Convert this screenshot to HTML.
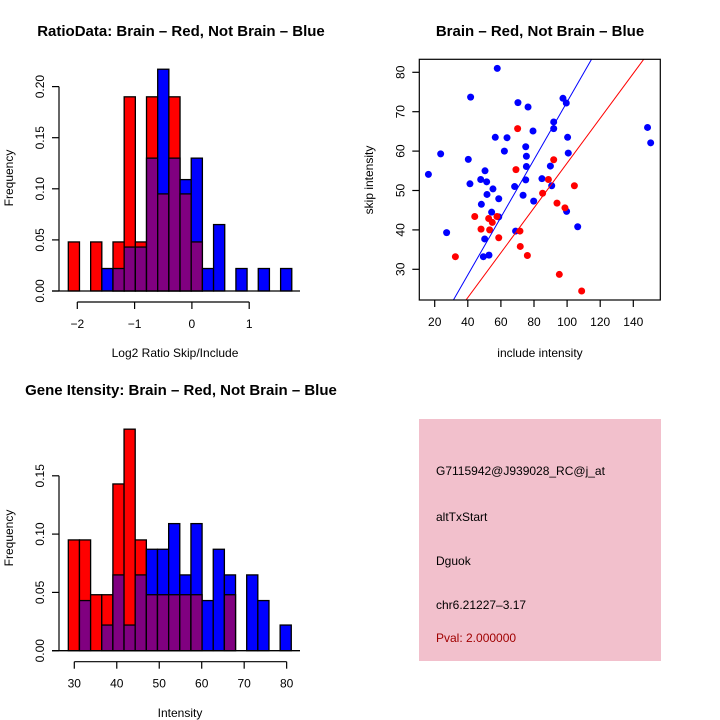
<!DOCTYPE html>
<html><head><meta charset="utf-8"><style>
html,body{margin:0;padding:0;background:#fff;}
svg{display:block;font-family:"Liberation Sans",sans-serif;}
</style></head><body>
<svg id="s" width="720" height="720" viewBox="0 0 720 720" xmlns="http://www.w3.org/2000/svg">
<rect width="720" height="720" fill="#fff"/>
<text x="181" y="36" text-anchor="middle" font-size="15" font-weight="bold">RatioData: Brain – Red, Not Brain – Blue</text>
<text x="540" y="36" text-anchor="middle" font-size="15" font-weight="bold">Brain – Red, Not Brain – Blue</text>
<text x="181" y="395" text-anchor="middle" font-size="15" font-weight="bold">Gene Itensity: Brain – Red, Not Brain – Blue</text>
<text x="175" y="357" text-anchor="middle" font-size="12">Log2 Ratio Skip/Include</text>
<text transform="translate(13,178) rotate(-90)" text-anchor="middle" font-size="12">Frequency</text>
<text x="540" y="357" text-anchor="middle" font-size="12">include intensity</text>
<text transform="translate(373,180) rotate(-90)" text-anchor="middle" font-size="12">skip intensity</text>
<text x="180" y="717" text-anchor="middle" font-size="12">Intensity</text>
<text transform="translate(13,538) rotate(-90)" text-anchor="middle" font-size="12">Frequency</text>
<g>
<rect x="419" y="419" width="242" height="242" fill="#f2c0cc"/>
<text x="436" y="475" font-size="12">G7115942@J939028_RC@j_at</text>
<text x="436" y="521" font-size="12">altTxStart</text>
<text x="436" y="565" font-size="12">Dguok</text>
<text x="436" y="609" font-size="12">chr6.21227–3.17</text>
<text x="436" y="642" font-size="12" fill="#a00000">Pval: 2.000000</text>
</g>
</svg>
<script>
// Ratio histogram data
const ratioBinStart = -2.157;
const ratioBinWidth = 0.195;
const ratioRed = [0.048,0,0.048,0,0.048,0.19,0.048,0.19,0.095,0.19,0.095,0.048,0,0,0,0,0,0,0,0];
const ratioBlue = [0,0,0,0.022,0.022,0.043,0.043,0.13,0.217,0.13,0.109,0.13,0.022,0.065,0,0.022,0,0.022,0,0.022];
const ratioXTicks = [-2,-1,0,1];
const ratioYTicks = [0,0.05,0.10,0.15,0.20];
const ratioYLabels = ["0.00","0.05","0.10","0.15","0.20"];
// Intensity histogram data
const intBinStart = 28.59;
const intBinWidth = 2.625;
const intRed = [0.095,0.095,0.048,0.048,0.143,0.19,0.095,0.048,0.048,0.048,0.048,0.048,0,0,0.048,0,0,0,0,0];
const intBlue = [0,0.043,0,0.022,0.065,0.022,0.065,0.087,0.087,0.109,0.065,0.109,0.043,0.087,0.065,0,0.065,0.043,0,0.022];
const intXTicks = [30,40,50,60,70,80];
const intYTicks = [0,0.05,0.10,0.15];
const intYLabels = ["0.00","0.05","0.10","0.15"];
// Scatter data
const blueX = [16.2,23.6,27.2,40.3,41.7,41.3,47.8,48.2,50.4,51.4,51.6,50.2,49.4,52.8,54.4,55.2,56.6,57.8,58.7,58.7,62.1,63.7,68.3,68.9,70.3,73.4,75.0,75.4,75.4,75.0,76.4,79.4,79.8,84.8,89.9,90.7,91.9,91.9,97.5,99.5,100.3,100.7,99.7,106.4,148.6,150.5];
const blueY = [54.1,59.3,39.3,57.9,73.7,51.7,52.8,46.5,55.0,52.2,49.0,37.7,33.2,33.6,44.5,50.4,63.5,81.0,47.9,43.3,60.0,63.4,51.0,39.7,72.3,48.8,61.1,58.7,56.1,52.7,71.2,65.1,47.3,53.0,56.2,51.2,67.4,65.7,73.4,72.2,63.5,59.5,44.7,40.8,66.0,62.1];
const redX = [32.5,44.2,48.0,52.6,54.8,53.2,58.7,57.6,70.1,69.1,71.5,71.7,76.0,85.2,88.7,91.9,93.9,98.7,95.3,104.4,108.8];
const redY = [33.2,43.4,40.2,42.9,41.9,40.0,38.0,43.4,65.7,55.3,39.7,35.8,33.5,49.3,52.8,57.8,46.8,45.6,28.7,51.2,24.5];
const lineSlopes = [0.732,0.569];
const lineIntercepts = [-0.71,0.06];
const lineColors = ["#0000ff","#ff0000"];
const scXTicks = [20,40,60,80,100,120,140];
const scYTicks = [30,40,50,60,70,80];

const NS="http://www.w3.org/2000/svg";
const svg=document.getElementById('s');
function mk(tag,attrs,parent){const e=document.createElementNS(NS,tag);for(const k in attrs)e.setAttribute(k,attrs[k]);(parent||svg).appendChild(e);return e;}

function hist(cfg){
  const g=mk('g',{});
  
  
  const xs=v=>cfg.x0+(v-cfg.xv0)*cfg.xk;
  const ys=v=>cfg.base-v*cfg.yk;
  for(let i=0;i<cfg.red.length;i++){
    const r=cfg.red[i],b=cfg.blue[i];
    const x1=xs(cfg.bs+i*cfg.bw),x2=xs(cfg.bs+(i+1)*cfg.bw);
    const hi=Math.max(r,b),lo=Math.min(r,b);
    if(hi>0){
      const e=mk('rect',{x:x1,y:ys(hi),width:x2-x1,height:ys(0)-ys(hi),fill:r>=b?'#ff0000':'#0000ff',stroke:'#000','stroke-width':1.3},g);
      
      
    }
    if(lo>0){
      const e=mk('rect',{x:x1,y:ys(lo),width:x2-x1,height:ys(0)-ys(lo),fill:'#800080',stroke:'#000','stroke-width':1.3},g);
      
      
    }
  }
  mk('line',{x1:52,x2:300,y1:cfg.base,y2:cfg.base,stroke:'#000','stroke-width':1.3},g);
  const ya=mk('g',{},g);
  
  
  const yt=cfg.yTicks;
  mk('line',{x1:59,x2:59,y1:ys(yt[0]),y2:ys(yt[yt.length-1]),stroke:'#000','stroke-width':1.2},ya);
  yt.forEach((v,i)=>{
    mk('line',{x1:52,x2:59,y1:ys(v),y2:ys(v),stroke:'#000','stroke-width':1.2},ya);
    const t=mk('text',{transform:`translate(44,${ys(v)}) rotate(-90)`,'text-anchor':'middle','font-size':12},ya);
    t.textContent=cfg.yLabels[i];
    
    
  });
  const xa=mk('g',{},g);
  
  
  const xt=cfg.xTicks, ay=cfg.base+11;
  mk('line',{x1:xs(xt[0]),x2:xs(xt[xt.length-1]),y1:ay,y2:ay,stroke:'#000','stroke-width':1.2},xa);
  xt.forEach(v=>{
    mk('line',{x1:xs(v),x2:xs(v),y1:ay,y2:ay+7,stroke:'#000','stroke-width':1.2},xa);
    const t=mk('text',{x:xs(v),y:ay+26,'text-anchor':'middle','font-size':12},xa);
    t.textContent=v<0?'−'+(-v):String(v);
    
    
  });
}
hist({name:'ratio-histogram',x0:77.3,xv0:-2,xk:57.3,base:291,yk:1022,bs:ratioBinStart,bw:ratioBinWidth,red:ratioRed,blue:ratioBlue,xTicks:ratioXTicks,yTicks:ratioYTicks,yLabels:ratioYLabels});
hist({name:'intensity-histogram',x0:74.3,xv0:30,xk:4.247,base:650.7,yk:1166,bs:intBinStart,bw:intBinWidth,red:intRed,blue:intBlue,xTicks:intXTicks,yTicks:intYTicks,yLabels:intYLabels});

(function(){
  const L=419.3,R=660.3,T=59.3,B=300;
  const xs=v=>434.7+(v-20)*1.655;
  const ys=v=>72.3-(v-80)*3.94;
  const g=mk('g',{});
  
  
  const cp=mk('clipPath',{id:'clp'},g);
  mk('rect',{x:L,y:T,width:R-L,height:B-T},cp);
  blueX.forEach((x,i)=>{
    const c=mk('circle',{cx:xs(x),cy:ys(blueY[i]),r:3.5,fill:'#0000ff'},g);
    
    
  });
  redX.forEach((x,i)=>{
    const c=mk('circle',{cx:xs(x),cy:ys(redY[i]),r:3.5,fill:'#ff0000'},g);
    
    
  });
  lineSlopes.forEach((m,i)=>{
    const xa=0,xb=200;
    const l=mk('line',{x1:xs(xa),y1:ys(m*xa+lineIntercepts[i]),x2:xs(xb),y2:ys(m*xb+lineIntercepts[i]),stroke:lineColors[i],'stroke-width':1,'clip-path':'url(#clp)'},g);
    
    
  });
  mk('rect',{x:L,y:T,width:R-L,height:B-T,fill:'none',stroke:'#000','stroke-width':1.2},g);
  scXTicks.forEach(v=>{
    mk('line',{x1:xs(v),x2:xs(v),y1:B,y2:B+7,stroke:'#000','stroke-width':1.2},g);
    const t=mk('text',{x:xs(v),y:B+26,'text-anchor':'middle','font-size':12},g);
    t.textContent=v;
    
    
  });
  scYTicks.forEach(v=>{
    mk('line',{x1:L-7,x2:L,y1:ys(v),y2:ys(v),stroke:'#000','stroke-width':1.2},g);
    const t=mk('text',{transform:`translate(${L-15},${ys(v)}) rotate(-90)`,'text-anchor':'middle','font-size':12},g);
    t.textContent=v;
    
    
  });
})();
</script>
</body></html>
